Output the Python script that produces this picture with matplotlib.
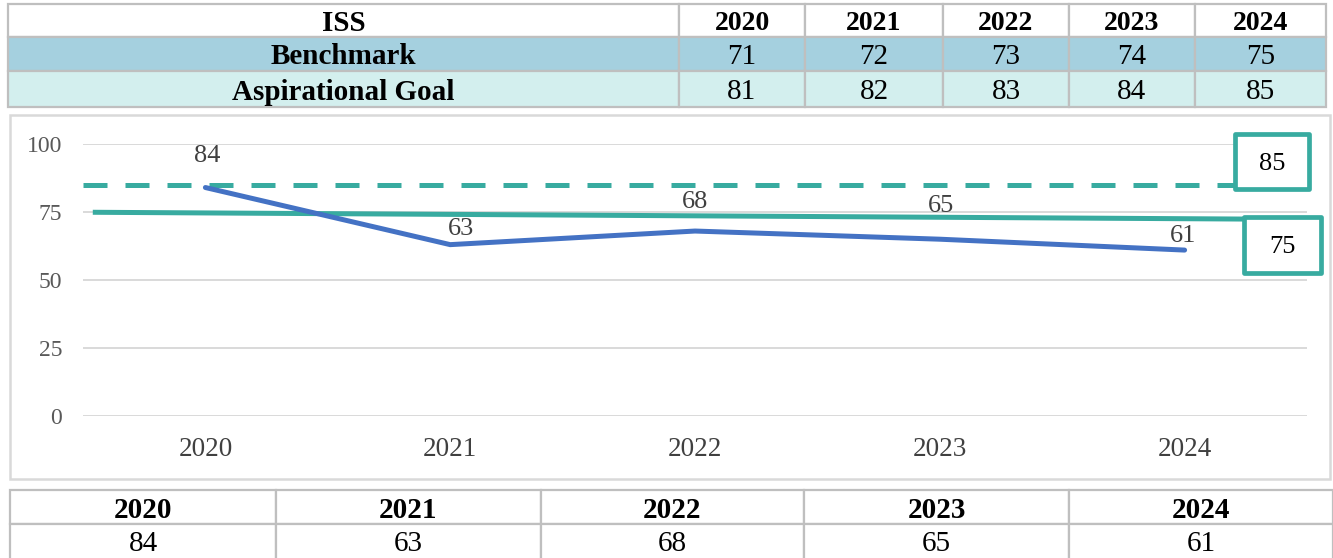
import matplotlib
matplotlib.use("Agg")
import matplotlib.pyplot as plt
from matplotlib.patches import Rectangle

# ---------------- data ----------------
years = ["2020", "2021", "2022", "2023", "2024"]
iss_scores = [84, 63, 68, 65, 61]
benchmark = [71, 72, 73, 74, 75]
aspirational = [81, 82, 83, 84, 85]
benchmark_line_x = [-0.46, 4.25]
benchmark_line_y = [74.9, 72.4]
goal_line_x = [-0.5, 4.2]
yticks = [0, 25, 50, 75, 100]

# ---------------- style ----------------
W, H = 1333, 558
DPI = 100
SERIF = ["Liberation Serif", "DejaVu Serif"]
TEAL = "#38ABA0"
BLUE = "#4472C4"
GRID = "#D9D9D9"
BORDER = "#BFBFBF"
BENCH_BG = "#A5D0DF"
ASP_BG = "#D3EFEE"

plt.rcParams["font.family"] = SERIF

fig = plt.figure(figsize=(W / DPI, H / DPI), dpi=DPI)
fig.patch.set_facecolor("white")


def fx(x):
    return x / W


def fy(y):
    return 1 - y / H


def cell(x0, x1, y0, y1, fc="white", lw=1.6):
    fig.add_artist(Rectangle((fx(x0), fy(y1)), fx(x1) - fx(x0), fy(y0) - fy(y1),
                             transform=fig.transFigure, facecolor=fc,
                             edgecolor=BORDER, linewidth=lw, zorder=1))


def ctext(x0, x1, y0, y1, s, bold=False, size=20, color="black"):
    fig.text(fx((x0 + x1) / 2), fy((y0 + y1) / 2), s, ha="center", va="center_baseline",
             fontsize=size, fontweight="bold" if bold else "normal", color=color,
             family=SERIF, zorder=3)


# ---------------- top table ----------------
tx = [8, 679, 805, 943, 1069, 1195, 1326]
ty = [4, 37, 71, 107]
rows = [("ISS", years, "white", True),
        ("Benchmark", [str(v) for v in benchmark], BENCH_BG, False),
        ("Aspirational Goal", [str(v) for v in aspirational], ASP_BG, False)]
for r, (label, vals, bg, header) in enumerate(rows):
    y0, y1 = ty[r], ty[r + 1]
    cell(tx[0], tx[1], y0, y1, fc=bg)
    ctext(tx[0], tx[1], y0, y1, label, bold=True, size=21)
    for c, v in enumerate(vals):
        cell(tx[c + 1], tx[c + 2], y0, y1, fc=bg)
        ctext(tx[c + 1], tx[c + 2], y0, y1, v, bold=header, size=20 if header else 21)

# ---------------- chart panel ----------------
fig.add_artist(Rectangle((fx(10), fy(479)), fx(1330) - fx(10), fy(115) - fy(479),
                         transform=fig.transFigure, facecolor="white",
                         edgecolor=GRID, linewidth=1.8, zorder=0))

ax = fig.add_axes([fx(83), fy(416), fx(1307) - fx(83), fy(144) - fy(416)])
ax.set_facecolor("none")
ax.set_xlim(-0.5, 4.5)
ax.set_ylim(0, 100)
for s in ax.spines.values():
    s.set_visible(False)
ax.set_yticks(yticks)
ax.set_yticklabels([str(t) for t in yticks], fontsize=17, color="#595959")
ax.set_xticks(range(len(years)))
ax.set_xticklabels(years, fontsize=19.5, color="#404040")
ax.tick_params(axis="both", length=0)
ax.tick_params(axis="y", pad=15)
ax.tick_params(axis="x", pad=15)
ax.grid(axis="y", color=GRID, linewidth=1.4)
ax.set_axisbelow(True)

xs = list(range(len(years)))
ax.plot(goal_line_x, [aspirational[-1]] * 2, color=TEAL, lw=3.6,
        linestyle=(0, (4.8, 3.6)), solid_capstyle="butt", zorder=2)
ax.plot(benchmark_line_x, benchmark_line_y, color=TEAL, lw=3.6, zorder=2,
        solid_capstyle="butt")
ax.plot(xs, iss_scores, color=BLUE, lw=3.6, zorder=3, solid_capstyle="round",
        solid_joinstyle="miter")

label_offsets = [(1, 23), (8, 11), (0, 21), (1, 24), (-1, 10)]
for x, v, (dx, dy) in zip(xs, iss_scores, label_offsets):
    ax.annotate(str(v), (x, v), xytext=(dx, dy), textcoords="offset points",
                ha="center", va="center", fontsize=19, color="#404040", zorder=4)

# value boxes at the end of goal / benchmark lines
boxes = [((4.206, 83.5), 0.302, 20.2, aspirational[-1]),
         ((4.243, 52.6), 0.314, 20.6, benchmark[-1])]
for (bx, by), bw, bh, v in boxes:
    ax.add_patch(Rectangle((bx, by), bw, bh, facecolor="white", edgecolor=TEAL,
                           linewidth=3.4, clip_on=False, zorder=5,
                           joinstyle="round"))
    ax.text(bx + bw / 2, by + bh / 2, str(v), ha="center", va="center_baseline",
            fontsize=19, color="black", zorder=6, clip_on=False)

# ---------------- bottom table ----------------
bx_edges = [10, 276, 541, 804, 1069, 1333]
by_edges = [490, 524, 560]
for c in range(len(years)):
    cell(bx_edges[c], bx_edges[c + 1], by_edges[0], by_edges[1])
    ctext(bx_edges[c], bx_edges[c + 1], by_edges[0], by_edges[1], years[c], bold=True, size=21)
    cell(bx_edges[c], bx_edges[c + 1], by_edges[1], by_edges[2])
    ctext(bx_edges[c], bx_edges[c + 1], by_edges[1], 558, str(iss_scores[c]), size=21)

fig.savefig("out.png", dpi=DPI, facecolor="white")
